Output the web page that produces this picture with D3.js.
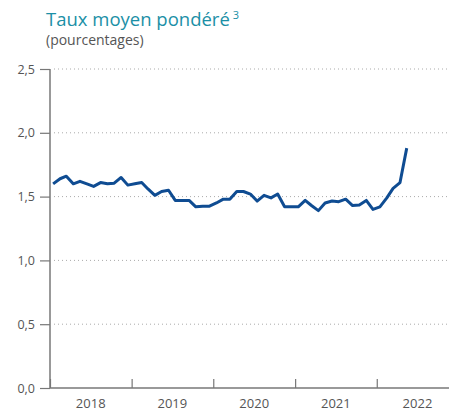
<!DOCTYPE html>
<html><head><meta charset="utf-8">
<script src="https://cdn.jsdelivr.net/npm/d3@7"></script>
<style>
html,body{margin:0;padding:0;background:#fff;}
svg{display:block;font-family:"Open Sans","Noto Sans",sans-serif;}
</style></head>
<body><svg id="c" width="449" height="412"></svg>
<script>
const title = "Taux moyen pondéré";
const titleNote = "3";
const subtitle = "(pourcentages)";
const startYear = 2018, startMonth = 0;
const values = [
  1.60, 1.64, 1.66, 1.60, 1.62, 1.60, 1.58, 1.61, 1.60, 1.605, 1.65, 1.59,
  1.60, 1.61, 1.56, 1.51, 1.54, 1.55, 1.47, 1.47, 1.47, 1.42, 1.425, 1.425,
  1.45, 1.48, 1.48, 1.54, 1.54, 1.52, 1.465, 1.51, 1.49, 1.52, 1.42, 1.42,
  1.42, 1.47, 1.43, 1.39, 1.45, 1.465, 1.46, 1.48, 1.43, 1.435, 1.47, 1.40,
  1.42, 1.49, 1.565, 1.61, 1.88
];
const yTicks = [0, 0.5, 1.0, 1.5, 2.0, 2.5];
const years = [2018, 2019, 2020, 2021, 2022];

const svg = d3.select("#c");
const m = {left: 50, right: 449, top: 69, bottom: 388};
const fmt = d => d.toFixed(1).replace(".", ",");

const x = d3.scaleTime()
  .domain([new Date(2018, 0, 1), new Date(2022, 10, 20)])
  .range([m.left, m.right]);
const y = d3.scaleLinear().domain([0, 2.5]).range([m.bottom, m.top]);

// title
const t = svg.append("text").attr("x", 46).attr("y", 26)
  .attr("fill", "#1b8fa6").attr("font-size", 18.5).text(title);
t.append("tspan").attr("dx", 3).attr("dy", -7).attr("font-size", 11).text(titleNote);
svg.append("text").attr("x", 46).attr("y", 45).attr("fill", "#555")
  .attr("font-size", 14).text(subtitle);

// grid
svg.append("g").selectAll("line").data(yTicks.filter(d => d > 0)).join("line")
  .attr("x1", m.left + 4).attr("x2", m.right)
  .attr("y1", d => y(d)).attr("y2", d => y(d))
  .attr("stroke", "#aaa").attr("stroke-width", 1).attr("stroke-dasharray", "1,3");

// y axis
const ya = svg.append("g").attr("transform", `translate(${m.left},0)`)
  .call(d3.axisLeft(y).tickValues(yTicks).tickFormat(fmt).tickSize(10).tickPadding(5));
ya.select(".domain").attr("stroke", "#777").attr("stroke-width", 1.5).attr("d", `M-0,${m.top}V${m.bottom}`);
ya.selectAll(".tick line").attr("stroke", "#777").attr("stroke-width", 1.2);
ya.selectAll(".tick text").attr("fill", "#555").attr("font-size", 12.5)
  .attr("font-family", "'Open Sans','Noto Sans',sans-serif");

// x axis
const xa = svg.append("g").attr("transform", `translate(0,${m.bottom})`)
  .call(d3.axisBottom(x).tickValues(years.map(yr => new Date(yr, 0, 1))).tickSize(-9).tickFormat(""));
xa.select(".domain").attr("stroke", "#777").attr("stroke-width", 1.5).attr("d", `M${m.left},0H${m.right}`);
xa.selectAll(".tick line").attr("stroke", "#777").attr("stroke-width", 1.2);
svg.append("g").selectAll("text").data(years).join("text")
  .attr("x", d => x(new Date(d, 6, 2))).attr("y", 408)
  .attr("text-anchor", "middle").attr("fill", "#555").attr("font-size", 13)
  .text(d => d);

// line
const data = values.map((v, i) => ({date: new Date(startYear, startMonth + i, 15), v}));
svg.append("path").datum(data)
  .attr("fill", "none").attr("stroke", "#0f4c92").attr("stroke-width", 3)
  .attr("stroke-linejoin", "round")
  .attr("d", d3.line().x(d => x(d.date)).y(d => y(d.v)));
</script></body></html>
